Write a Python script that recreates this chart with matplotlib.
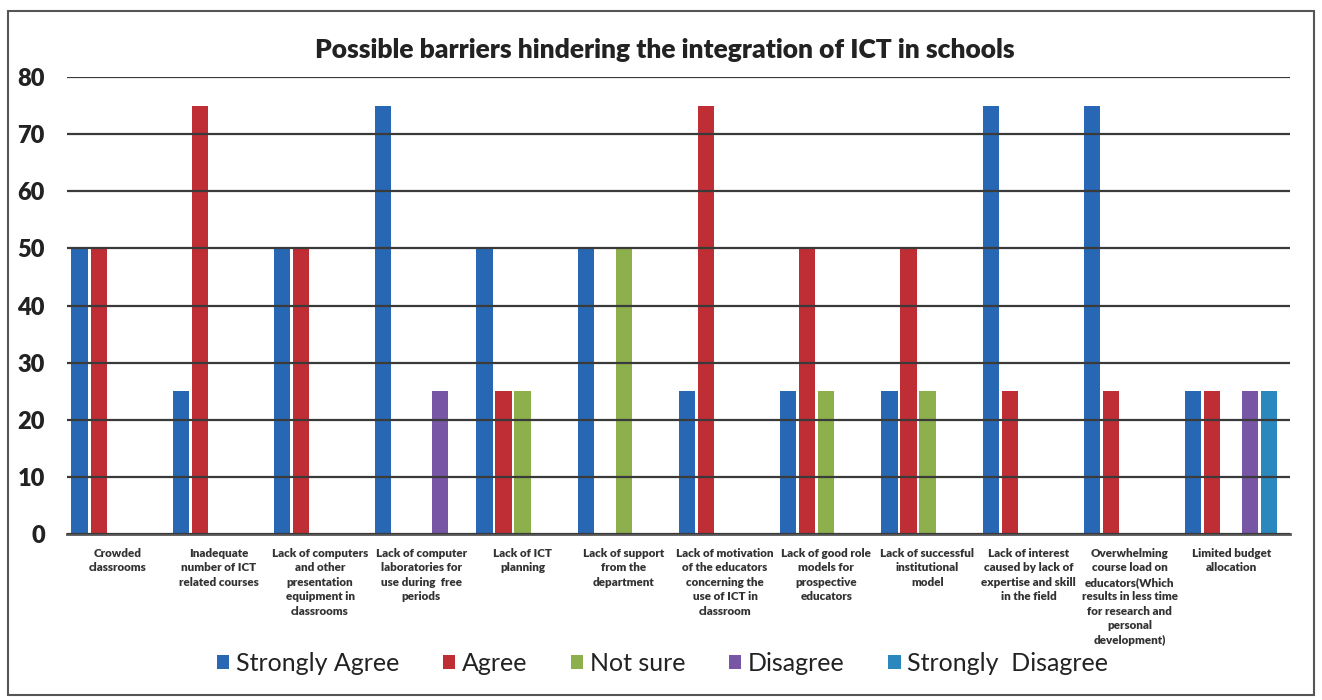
import numpy as np
import matplotlib.pyplot as plt
from matplotlib.patches import Rectangle

# categorias (barreiras) e respostas por categoria
barreiras = [
    "Crowded\nclassrooms",
    "Inadequate\nnumber of ICT\nrelated courses",
    "Lack of computers\nand other\npresentation\nequipment in\nclassrooms",
    "Lack of computer\nlaboratories for\nuse during  free\nperiods",
    "Lack of ICT\nplanning",
    "Lack of support\nfrom the\ndepartment",
    "Lack of motivation\nof the educators\nconcerning the\nuse of ICT in\nclassroom",
    "Lack of good role\nmodels for\nprospective\neducators",
    "Lack of successful\ninstitutional\nmodel",
    "Lack of interest\ncaused by lack of\nexpertise and skill\nin the field",
    "Overwhelming\ncourse load on\neducators(Which\nresults in less time\nfor research and\npersonal\ndevelopment)",
    "Limited budget\nallocation",
]

strongly_agree    = [50, 25, 50, 75, 50, 50, 25, 25, 25, 75, 75, 25]
agree             = [50, 75, 50, 0, 25, 0, 75, 50, 50, 25, 25, 25]
not_sure          = [0, 0, 0, 0, 25, 50, 0, 25, 25, 0, 0, 0]
disagree          = [0, 0, 0, 25, 0, 0, 0, 0, 0, 0, 0, 25]
strongly_disagree = [0, 0, 0, 0, 0, 0, 0, 0, 0, 0, 0, 25]

series = ["Strongly Agree", "Agree", "Not sure", "Disagree", "Strongly  Disagree"]
valores = [strongly_agree, agree, not_sure, disagree, strongly_disagree]
cores = ["#2767B3", "#BE2E34", "#8DAF4C", "#7856A6", "#2A88BF"]

plt.rcParams['font.family'] = ['Lato', 'DejaVu Sans']

fig = plt.figure(figsize=(13.22, 7.0), dpi=100)
ax = fig.add_axes([0.0507, 0.237, 0.925, 0.653])

x = np.arange(len(barreiras))
passo = 0.188
largura = 0.16
for i, (nome, vals, cor) in enumerate(zip(series, valores, cores)):
    ax.bar(x + (i - 2) * passo, vals, width=largura, color=cor, label=nome, zorder=2)

ax.set_xlim(-0.5, len(barreiras) - 0.5 + 0.08)
ax.set_ylim(0, 80)
ax.set_yticks(range(0, 81, 10))
ax.yaxis.grid(True, color="#3a3a3a", linewidth=1.6, zorder=3)
ax.set_axisbelow(False)
for s in ["top", "right", "left"]:
    ax.spines[s].set_visible(False)
ax.spines["bottom"].set_color("#555555")
ax.spines["bottom"].set_linewidth(2)
ax.tick_params(axis="both", length=0)
ax.tick_params(axis="y", labelsize=17, pad=16)
for t in ax.get_yticklabels():
    t.set_fontweight("heavy")
    t.set_color("#222222")

ax.set_xticks(x)
ax.set_xticklabels(barreiras, fontsize=8.4, fontweight="heavy", color="#333333",
                   linespacing=1.38)
ax.tick_params(axis="x", pad=10)

fig.suptitle("Possible barriers hindering the integration of ICT in schools",
             x=0.503, y=0.945, fontsize=19, fontweight="heavy", color="#222222")

leg = fig.legend(loc="center", bbox_to_anchor=(0.501, 0.052), ncol=5, frameon=False,
                 fontsize=18, handlelength=0.5, handleheight=0.5,
                 handletextpad=0.25, columnspacing=1.75)
for t in leg.get_texts():
    t.set_color("#222222")

# moldura externa do gráfico
fig.patches.append(Rectangle((0.006, 0.007), 0.988, 0.978, transform=fig.transFigure,
                             fill=False, edgecolor="#555555", linewidth=1.5))

fig.savefig("out.png", dpi=100)
